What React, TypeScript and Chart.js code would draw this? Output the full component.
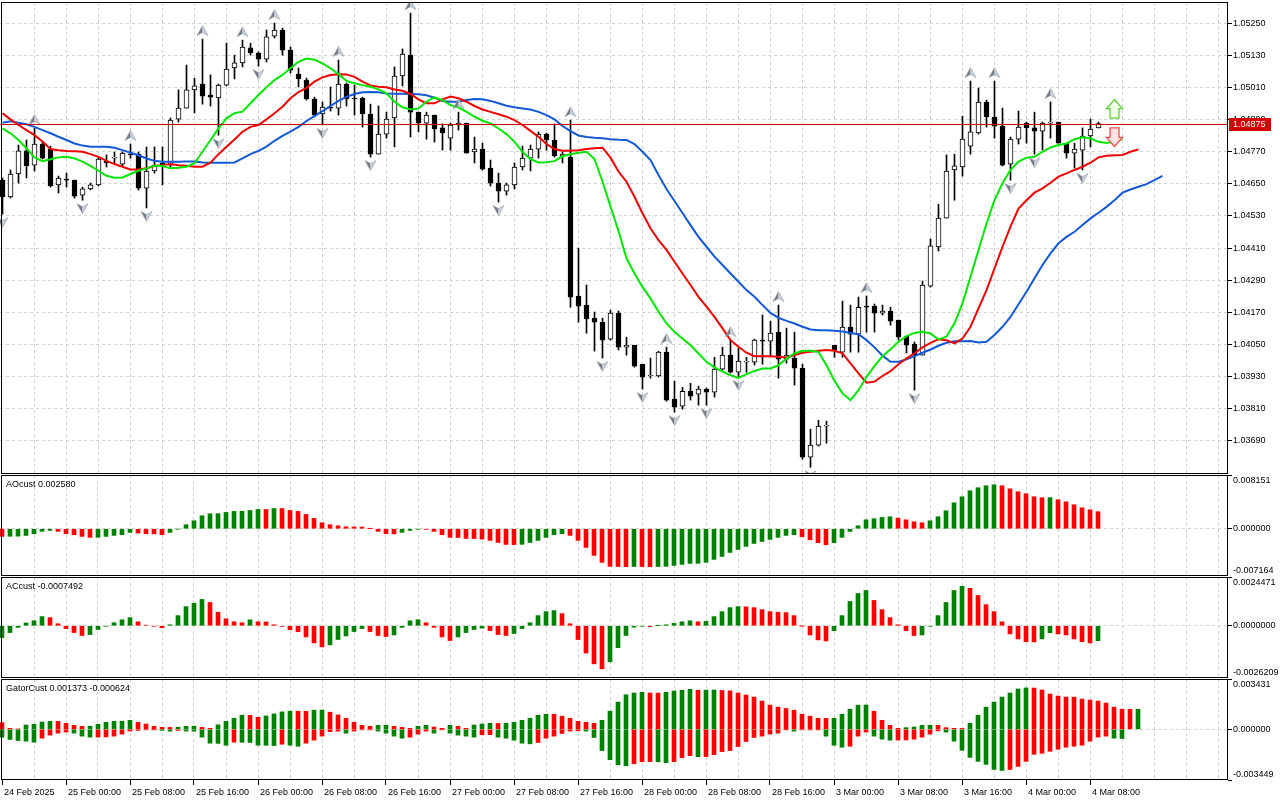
import React, { useEffect, useRef } from "react";
import { Chart, registerables } from "chart.js";

Chart.register(...registerables);

// ---------------- data ----------------
const opens = [1.04664,1.04601,1.04687,1.04773,1.04720,1.04799,1.04780,1.04646,1.04668,1.04664,
1.04608,1.04631,1.04646,1.04735,1.04746,1.04724,1.04761,1.04761,1.04634,1.04698,
1.04728,1.04720,1.04892,1.04933,1.05001,1.05023,1.04982,1.04971,1.05019,1.05083,
1.05102,1.05158,1.05139,1.05116,1.05202,1.05225,1.05150,1.05060,1.05038,1.04967,
1.04911,1.04937,1.04933,1.05023,1.04971,1.04971,1.04911,1.04761,1.04836,1.04896,
1.05053,1.05131,1.04918,1.04877,1.04907,1.04859,1.04821,1.04870,1.04877,1.04769,
1.04780,1.04709,1.04653,1.04623,1.04646,1.04713,1.04746,1.04780,1.04836,1.04814,
1.04754,1.04750,1.04231,1.04197,1.04148,1.04133,1.04070,1.04167,1.04040,1.04047,
1.03976,1.03932,1.03932,1.04021,1.03846,1.03819,1.03875,1.03864,1.03883,1.03872,
1.03958,1.04010,1.03946,1.03984,1.03984,1.04066,1.04062,1.04096,1.03995,1.03999,
1.03961,1.03629,1.03674,1.03745,1.04047,1.04021,1.04115,1.04088,1.04193,1.04193,
1.04167,1.04175,1.04141,1.04081,1.04051,1.04010,1.04268,1.04414,1.04522,1.04702,
1.04713,1.04791,1.04840,1.04956,1.04900,1.04866,1.04724,1.04817,1.04877,1.04859,
1.04847,1.04877,1.04881,1.04802,1.04765,1.04776,1.04829,1.04859];

const highs = [1.04672,1.04702,1.04795,1.04814,1.04859,1.04806,1.04791,1.04679,1.04690,1.04664,
1.04638,1.04653,1.04750,1.04758,1.04769,1.04769,1.04799,1.04769,1.04788,1.04788,
1.04788,1.04896,1.05001,1.05094,1.05045,1.05191,1.05057,1.05023,1.05176,1.05131,
1.05187,1.05176,1.05143,1.05225,1.05251,1.05232,1.05161,1.05083,1.05045,1.04974,
1.04956,1.05012,1.05113,1.05027,1.05019,1.04974,1.04948,1.04941,1.04918,1.05087,
1.05154,1.05288,1.04918,1.04918,1.04907,1.04874,1.04877,1.04918,1.04877,1.04825,
1.04802,1.04739,1.04690,1.04653,1.04728,1.04791,1.04795,1.04844,1.04840,1.04874,
1.04769,1.04888,1.04410,1.04272,1.04171,1.04148,1.04178,1.04175,1.04077,1.04047,
1.03976,1.03999,1.04025,1.04040,1.03913,1.03890,1.03905,1.03894,1.03887,1.04002,
1.04040,1.04066,1.04036,1.04002,1.04070,1.04160,1.04137,1.04197,1.04111,1.04096,
1.03976,1.03733,1.03767,1.03763,1.04047,1.04212,1.04197,1.04227,1.04231,1.04201,
1.04197,1.04189,1.04141,1.04081,1.04059,1.04287,1.04444,1.04574,1.04758,1.04761,
1.04903,1.05034,1.05008,1.04963,1.05034,1.04933,1.04825,1.04922,1.04881,1.04918,
1.04881,1.04956,1.04881,1.04802,1.04802,1.04859,1.04892,1.04881];

const lows = [1.04537,1.04597,1.04653,1.04672,1.04698,1.04743,1.04638,1.04616,1.04638,1.04597,
1.04589,1.04627,1.04642,1.04713,1.04728,1.04717,1.04746,1.04627,1.04560,1.04690,
1.04646,1.04713,1.04881,1.04933,1.04915,1.04948,1.04941,1.04832,1.05016,1.05042,
1.05087,1.05131,1.05090,1.05105,1.05195,1.05131,1.05064,1.05012,1.04963,1.04900,
1.04870,1.04922,1.04907,1.04941,1.04907,1.04862,1.04750,1.04761,1.04821,1.04788,
1.05016,1.04825,1.04844,1.04817,1.04806,1.04776,1.04776,1.04851,1.04765,1.04728,
1.04702,1.04642,1.04582,1.04608,1.04631,1.04702,1.04698,1.04746,1.04776,1.04750,
1.04728,1.04189,1.04133,1.04092,1.04025,1.03999,1.04066,1.04029,1.04010,1.03965,
1.03883,1.03924,1.03928,1.03838,1.03797,1.03808,1.03842,1.03823,1.03823,1.03853,
1.03954,1.03943,1.03928,1.03946,1.03973,1.03976,1.04006,1.03924,1.03980,1.03898,
1.03621,1.03591,1.03670,1.03681,1.04002,1.04002,1.04021,1.04021,1.04096,1.04096,
1.04160,1.04122,1.04066,1.04018,1.03879,1.04010,1.04264,1.04399,1.04522,1.04589,
1.04679,1.04761,1.04836,1.04862,1.04821,1.04717,1.04664,1.04799,1.04802,1.04761,
1.04776,1.04821,1.04802,1.04746,1.04709,1.04702,1.04788,1.04859];

const closes = [1.04601,1.04687,1.04773,1.04717,1.04799,1.04746,1.04642,1.04672,1.04664,1.04604,
1.04631,1.04646,1.04743,1.04728,1.04750,1.04765,1.04758,1.04634,1.04698,1.04720,
1.04720,1.04888,1.04933,1.05001,1.05016,1.04978,1.04974,1.05019,1.05079,1.05102,
1.05161,1.05139,1.05116,1.05199,1.05225,1.05150,1.05075,1.05042,1.04967,1.04907,
1.04937,1.04933,1.05023,1.04967,1.04967,1.04911,1.04761,1.04836,1.04892,1.05053,
1.05135,1.04918,1.04877,1.04907,1.04855,1.04840,1.04870,1.04877,1.04765,1.04780,
1.04705,1.04653,1.04623,1.04646,1.04713,1.04746,1.04780,1.04836,1.04814,1.04754,
1.04761,1.04227,1.04193,1.04145,1.04133,1.04066,1.04167,1.04040,1.04047,1.03969,
1.03928,1.03935,1.04021,1.03842,1.03816,1.03875,1.03857,1.03883,1.03872,1.03958,
1.04010,1.03946,1.03988,1.03988,1.04066,1.04062,1.04092,1.03995,1.04010,1.03961,
1.03629,1.03674,1.03745,1.03747,1.04029,1.04115,1.04088,1.04189,1.04189,1.04167,
1.04175,1.04137,1.04077,1.04047,1.04010,1.04272,1.04418,1.04522,1.04698,1.04717,
1.04817,1.04844,1.04956,1.04900,1.04866,1.04720,1.04817,1.04862,1.04859,1.04847,
1.04877,1.04878,1.04802,1.04765,1.04780,1.04829,1.04855,1.04875];

// Alligator lines (as displayed, already shifted forward)
const jaw = [1.04878,1.04884,1.04878,1.04873,1.04863,1.04851,1.04839,1.04826,1.04814,1.04801,
1.04793,1.04789,1.04789,1.04789,1.04785,1.04776,1.04766,1.04757,1.04745,1.04736,
1.04733,1.04733,1.04733,1.04734,1.04734,1.04730,1.04729,1.04729,1.04729,1.04730,
1.04745,1.04761,1.04773,1.04789,1.04811,1.04829,1.04845,1.04863,1.04885,1.04903,
1.04922,1.04941,1.04960,1.04975,1.04986,1.04992,1.04993,1.04992,1.04988,1.04987,
1.04987,1.04986,1.04985,1.04981,1.04972,1.04960,1.04957,1.04957,1.04963,1.04967,
1.04966,1.04960,1.04951,1.04942,1.04936,1.04932,1.04928,1.04919,1.04907,1.04891,
1.04866,1.04847,1.04831,1.04825,1.04822,1.04820,1.04817,1.04815,1.04814,1.04799,
1.04770,1.04739,1.04683,1.04631,1.04586,1.04541,1.04496,1.04452,1.04415,1.04378,
1.04347,1.04315,1.04284,1.04253,1.04228,1.04197,1.04168,1.04149,1.04138,1.04128,
1.04116,1.04106,1.04103,1.04103,1.04101,1.04098,1.04093,1.04088,1.04066,1.04039,
1.04008,1.03985,1.03985,1.03994,1.04006,1.04019,1.04031,1.04045,1.04056,1.04062,
1.04062,1.04063,1.04057,1.04060,1.04085,1.04116,1.04153,1.04200,1.04247,1.04297,
1.04347,1.04390,1.04428,1.04452,1.04471,1.04496,1.04521,1.04542,1.04564,1.04589,
1.04617,1.04629,1.04639,1.04649,1.04664,1.04680];

const teeth = [1.04914,1.04891,1.04870,1.04851,1.04832,1.04808,1.04780,1.04776,1.04773,1.04772,
1.04770,1.04761,1.04751,1.04736,1.04724,1.04714,1.04704,1.04704,1.04708,1.04717,
1.04720,1.04724,1.04720,1.04718,1.04714,1.04714,1.04729,1.04761,1.04789,1.04816,
1.04845,1.04863,1.04870,1.04891,1.04914,1.04938,1.04970,1.04993,1.05009,1.05032,
1.05048,1.05057,1.05060,1.05059,1.05050,1.05032,1.05018,1.05013,1.05011,1.05003,
1.04998,1.04986,1.04966,1.04951,1.04951,1.04966,1.04976,1.04970,1.04957,1.04941,
1.04928,1.04919,1.04910,1.04901,1.04888,1.04870,1.04848,1.04826,1.04799,1.04780,
1.04774,1.04774,1.04776,1.04780,1.04783,1.04785,1.04748,1.04696,1.04658,1.04602,
1.04540,1.04484,1.04440,1.04403,1.04359,1.04315,1.04272,1.04228,1.04191,1.04153,
1.04110,1.04066,1.04041,1.04019,1.04006,1.04006,1.04006,1.04004,1.04001,1.04010,
1.04019,1.04023,1.04026,1.04029,1.04026,1.04017,1.03979,1.03942,1.03907,1.03911,
1.03932,1.03950,1.03976,1.03998,1.04017,1.04039,1.04056,1.04069,1.04066,1.04054,
1.04072,1.04116,1.04185,1.04253,1.04334,1.04415,1.04490,1.04558,1.04589,1.04617,
1.04633,1.04654,1.04677,1.04689,1.04702,1.04714,1.04729,1.04749,1.04755,1.04757,
1.04758,1.04770,1.04779];

const lips = [1.04857,1.04839,1.04814,1.04783,1.04749,1.04735,1.04742,1.04749,1.04751,1.04745,
1.04733,1.04717,1.04699,1.04680,1.04673,1.04674,1.04687,1.04699,1.04708,1.04718,
1.04717,1.04708,1.04710,1.04714,1.04727,1.04770,1.04814,1.04857,1.04895,1.04914,
1.04920,1.04951,1.04982,1.05011,1.05038,1.05057,1.05082,1.05106,1.05118,1.05114,
1.05100,1.05082,1.05060,1.05035,1.05026,1.05019,1.05013,1.05003,1.04988,1.04957,
1.04936,1.04928,1.04932,1.04957,1.04973,1.04963,1.04944,1.04936,1.04919,1.04901,
1.04886,1.04876,1.04857,1.04836,1.04807,1.04770,1.04742,1.04730,1.04731,1.04735,
1.04753,1.04761,1.04766,1.04770,1.04743,1.04659,1.04565,1.04474,1.04372,1.04315,
1.04265,1.04222,1.04172,1.04129,1.04097,1.04072,1.04047,1.04016,1.03985,1.03964,
1.03948,1.03935,1.03925,1.03939,1.03951,1.03960,1.03960,1.03972,1.03997,1.04016,
1.04026,1.04026,1.04022,1.03972,1.03914,1.03867,1.03842,1.03879,1.03929,1.03969,
1.04006,1.04032,1.04060,1.04081,1.04093,1.04097,1.04091,1.04069,1.04079,1.04129,
1.04204,1.04303,1.04403,1.04502,1.04589,1.04652,1.04702,1.04733,1.04748,1.04751,
1.04770,1.04786,1.04795,1.04801,1.04817,1.04824,1.04820,1.04807,1.04803,1.04807,
1.04818];

const fractalUpBars = [4, 16, 25, 30, 34, 42, 51, 57, 71, 83, 91, 97, 108, 121, 124, 131];
const fractalDownBars = [0, 10, 18, 27, 32, 40, 46, 62, 75, 80, 84, 88, 92, 101, 114, 126, 129, 135];

const signalBars = [139];
const buySignalPrices = [1.04896];
const sellSignalPrices = [1.04859];

const lastPrice = 1.04875;
const lastPriceLabel = "1.04875";
const priceAxisMin = 1.035658;
const priceAxisMax = 1.053296;
const priceTicks = [1.0525, 1.0513, 1.0501, 1.0489, 1.0477, 1.0465, 1.0453, 1.0441, 1.0429, 1.0417, 1.0405, 1.0393, 1.0381, 1.0369];

const aoValues = [-0.00116,-0.00114,-0.00112,-0.00101,-0.00076,-0.00040,-0.00025,-0.00040,-0.00076,-0.00091,
-0.00116,-0.00131,-0.00129,-0.00116,-0.00101,-0.00091,-0.00056,-0.00066,-0.00076,-0.00078,
-0.00091,-0.00056,-0.00005,0.00061,0.00121,0.00197,0.00227,0.00229,0.00248,0.00263,
0.00265,0.00278,0.00293,0.00292,0.00308,0.00307,0.00278,0.00263,0.00217,0.00157,
0.00091,0.00061,0.00045,0.00030,0.00028,0.00025,0.00002,-0.00040,-0.00076,-0.00078,
-0.00056,-0.00025,-0.00005,-0.00010,-0.00040,-0.00091,-0.00131,-0.00133,-0.00147,-0.00149,
-0.00157,-0.00177,-0.00208,-0.00238,-0.00240,-0.00236,-0.00208,-0.00177,-0.00131,-0.00091,
-0.00076,-0.00101,-0.00177,-0.00283,-0.00404,-0.00510,-0.00571,-0.00573,-0.00575,-0.00572,
-0.00574,-0.00576,-0.00573,-0.00570,-0.00556,-0.00541,-0.00526,-0.00524,-0.00510,-0.00465,
-0.00420,-0.00359,-0.00314,-0.00268,-0.00223,-0.00193,-0.00162,-0.00131,-0.00101,-0.00091,
-0.00121,-0.00167,-0.00212,-0.00243,-0.00212,-0.00131,-0.00040,0.00045,0.00136,0.00152,
0.00172,0.00182,0.00162,0.00136,0.00106,0.00091,0.00121,0.00182,0.00273,0.00394,
0.00485,0.00576,0.00622,0.00652,0.00667,0.00652,0.00606,0.00561,0.00531,0.00485,
0.00470,0.00472,0.00440,0.00409,0.00364,0.00318,0.00288,0.00258];

const acValues = [-0.00059,-0.00034,-0.00008,0.00014,0.00025,0.00046,0.00041,0.00010,-0.00014,-0.00034,
-0.00049,-0.00044,-0.00019,-0.00002,0.00015,0.00030,0.00041,0.00020,0.00003,-0.00002,
-0.00010,0.00005,0.00051,0.00096,0.00113,0.00132,0.00117,0.00068,0.00035,0.00020,
0.00015,0.00030,0.00020,0.00019,0.00005,-0.00003,-0.00020,-0.00030,-0.00056,-0.00086,
-0.00106,-0.00096,-0.00069,-0.00051,-0.00029,-0.00014,-0.00029,-0.00049,-0.00054,-0.00046,
-0.00008,0.00025,0.00030,0.00015,-0.00008,-0.00056,-0.00074,-0.00056,-0.00034,-0.00019,
-0.00012,-0.00024,-0.00044,-0.00049,-0.00039,-0.00014,0.00015,0.00051,0.00071,0.00076,
0.00061,0.00010,-0.00069,-0.00137,-0.00191,-0.00216,-0.00181,-0.00110,-0.00049,-0.00007,
-0.00002,-0.00004,0.00001,0.00005,0.00012,0.00020,0.00025,0.00020,0.00022,0.00046,
0.00071,0.00091,0.00096,0.00095,0.00091,0.00081,0.00071,0.00068,0.00066,0.00051,
-0.00001,-0.00046,-0.00071,-0.00076,-0.00025,0.00051,0.00122,0.00162,0.00177,0.00127,
0.00081,0.00041,0.00005,-0.00025,-0.00049,-0.00046,-0.00002,0.00051,0.00117,0.00177,
0.00198,0.00188,0.00152,0.00106,0.00071,0.00020,-0.00041,-0.00066,-0.00080,-0.00081,
-0.00066,-0.00035,-0.00041,-0.00046,-0.00066,-0.00080,-0.00086,-0.0007492];

const gatorUpper = [0.000461,0.000069,0.000034,0.000296,0.000344,0.000502,0.000550,0.000544,0.000413,0.000275,
0.000206,0.000213,0.000344,0.000482,0.000550,0.000557,0.000619,0.000482,0.000365,0.000206,
0.000138,0.000131,0.000144,0.000206,0.000220,0.000138,0.000069,0.000310,0.000550,0.000757,
0.000963,0.000956,0.000826,0.000915,0.001053,0.001190,0.001238,0.001232,0.001225,0.001307,
0.001314,0.001170,0.000984,0.000757,0.000482,0.000275,0.000206,0.000275,0.000282,0.000206,
0.000138,0.000069,0.000206,0.000275,0.000158,0.000069,0.000275,0.000206,0.000069,0.000296,
0.000365,0.000413,0.000406,0.000413,0.000482,0.000619,0.000757,0.000963,0.001032,0.001025,
0.000894,0.000757,0.000550,0.000482,0.000413,0.000619,0.001238,0.001858,0.002360,0.002477,
0.002525,0.002477,0.002470,0.002525,0.002614,0.002663,0.002731,0.002663,0.002676,0.002683,
0.002649,0.002628,0.002477,0.002339,0.002202,0.001926,0.001651,0.001514,0.001424,0.001307,
0.001032,0.000894,0.000757,0.000750,0.000757,0.001032,0.001376,0.001651,0.001658,0.001238,
0.000619,0.000275,0.000069,0.000117,0.000158,0.000275,0.000282,0.000275,0.000117,0.000069,
0.000062,0.000413,0.000963,0.001514,0.001858,0.002202,0.002477,0.002752,0.002821,0.002814,
0.002683,0.002408,0.002270,0.002202,0.002195,0.002064,0.001995,0.001926,0.001789,0.001514,
0.001376,0.001369,0.001373];

const gatorLower = [-0.000530,-0.000688,-0.000757,-0.000805,-0.000874,-0.000599,-0.000392,-0.000255,-0.000186,-0.000255,
-0.000461,-0.000530,-0.000523,-0.000516,-0.000461,-0.000323,-0.000117,-0.000069,-0.000034,-0.000021,
-0.000069,-0.000117,-0.000069,-0.000117,-0.000124,-0.000530,-0.000943,-0.000956,-0.001080,-0.000874,
-0.000881,-0.000894,-0.001080,-0.001087,-0.001101,-0.001011,-0.001080,-0.001149,-0.000943,-0.000736,
-0.000461,-0.000158,-0.000117,-0.000255,-0.000117,-0.000034,-0.000028,-0.000117,-0.000255,-0.000461,
-0.000599,-0.000530,-0.000323,-0.000117,-0.000255,-0.000021,-0.000255,-0.000392,-0.000461,-0.000530,
-0.000365,-0.000358,-0.000530,-0.000599,-0.000736,-0.000943,-0.000984,-0.000894,-0.000599,-0.000461,
-0.000275,-0.000117,-0.000103,-0.000117,-0.000550,-0.001445,-0.002064,-0.002408,-0.002477,-0.002339,
-0.002202,-0.002195,-0.002208,-0.002270,-0.002202,-0.001926,-0.001789,-0.001858,-0.001851,-0.001720,
-0.001514,-0.001445,-0.001170,-0.000826,-0.000550,-0.000461,-0.000323,-0.000255,-0.000014,-0.000117,
-0.000034,-0.000021,-0.000014,-0.000461,-0.001080,-0.001218,-0.001149,-0.000461,-0.000186,-0.000461,
-0.000667,-0.000736,-0.000729,-0.000722,-0.000667,-0.000530,-0.000323,-0.000103,-0.000186,-0.000805,
-0.001424,-0.001906,-0.002181,-0.002387,-0.002731,-0.002800,-0.002731,-0.002525,-0.002181,-0.001699,
-0.001631,-0.001493,-0.001355,-0.001218,-0.001149,-0.001080,-0.000805,-0.000530,-0.000461,-0.000599,
-0.000624];

const aoTitle = "AOcust 0.002580";
const acTitle = "ACcust -0.0007492";
const gatorTitle = "GatorCust 0.001373 -0.000624";
const aoScale = [0.008151, 0, -0.007164];
const aoScaleLabels = ["0.008151", "0.000000", "-0.007164"];
const acScale = [0.0024471, 0, -0.0026209];
const acScaleLabels = ["0.0024471", "0.0000000", "-0.0026209"];
const gatorScale = [0.003431, 0, -0.003449];
const gatorScaleLabels = ["0.003431", "0.000000", "-0.003449"];

const timeLabelBars = [0, 8, 16, 24, 32, 40, 48, 56, 64, 72, 80, 88, 96, 104, 112, 120, 128, 136];
const timeLabels = ["24 Feb 2025", "25 Feb 00:00", "25 Feb 08:00", "25 Feb 16:00", "26 Feb 00:00", "26 Feb 08:00",
  "26 Feb 16:00", "27 Feb 00:00", "27 Feb 08:00", "27 Feb 16:00", "28 Feb 00:00", "28 Feb 08:00", "28 Feb 16:00",
  "3 Mar 00:00", "3 Mar 08:00", "3 Mar 16:00", "4 Mar 00:00", "4 Mar 08:00"];

// ---------------- style ----------------
const FONT_FAMILY = '"Liberation Sans", Arial, sans-serif';
const FONT_SIZE = 9;
const FONT = FONT_SIZE + "px " + FONT_FAMILY;
const GRID_COLOR = "#d2d2d2";
const UP_COLOR = "#008000";
const DOWN_COLOR = "#ff0000";
const JAW_COLOR = "#1358d6";
const TEETH_COLOR = "#f00000";
const LIPS_COLOR = "#00e600";
const PRICE_COLOR = "#d00000";
const TRANSPARENT = "rgba(0,0,0,0)";

Chart.defaults.font.family = FONT_FAMILY;
Chart.defaults.font.size = FONT_SIZE;

const gridBars: number[] = [];
for (let b = 0; b <= 152; b += 4) gridBars.push(b);

function pts(values: number[]) {
  return values.map((y, x) => ({ x, y }));
}

function histColors(values: number[], first: string, useAbs: boolean) {
  return values.map((v, i) => {
    if (i === 0) return first;
    const a = useAbs ? Math.abs(v) : v;
    const b = useAbs ? Math.abs(values[i - 1]) : values[i - 1];
    return a > b ? UP_COLOR : DOWN_COLOR;
  });
}

function xAxis(min: number, max: number, showTime: boolean): any {
  return {
    type: "linear",
    min,
    max,
    offset: false,
    afterBuildTicks: (s: any) => {
      s.ticks = gridBars.map((value) => ({ value }));
    },
    afterFit: (s: any) => {
      s.height = showTime ? 20 : 0;
      s.paddingLeft = 0;
      s.paddingRight = 0;
    },
    ticks: showTime
      ? {
          display: true,
          autoSkip: false,
          maxRotation: 0,
          minRotation: 0,
          align: "start",
          labelOffset: 2,
          padding: 2,
          color: "#000",
          font: { family: FONT_FAMILY, size: FONT_SIZE },
          callback: (v: any) => {
            const k = timeLabelBars.indexOf(Number(v));
            return k >= 0 ? timeLabels[k] : "";
          },
        }
      : { display: false },
    grid: {
      offset: false,
      lineWidth: 1,
      drawTicks: showTime,
      tickLength: 5,
      tickWidth: 1,
      tickBorderDash: [],
      color: (c: any) => (c.tick && c.tick.value === 0 ? TRANSPARENT : GRID_COLOR),
      tickColor: (c: any) => (c.tick && timeLabelBars.includes(c.tick.value) ? "#000" : TRANSPARENT),
    },
    border: { display: false, dash: [3, 3] },
  };
}

function drawFrame(ctx: CanvasRenderingContext2D, a: any) {
  ctx.save();
  ctx.setLineDash([]);
  ctx.strokeStyle = "#000";
  ctx.lineWidth = 1;
  ctx.strokeRect(a.left + 1.5, a.top + 0.5, a.right - a.left - 2, a.bottom - a.top - 1);
  ctx.restore();
}

function drawFractal(ctx: CanvasRenderingContext2D, x: number, y: number, up: boolean) {
  const s = up ? 1 : -1;
  const tip = y - 5.5 * s;
  const base = y + 4.5 * s;
  const notch = y + 1.5 * s;
  ctx.beginPath();
  ctx.moveTo(x, tip);
  ctx.lineTo(x - 5.5, base);
  ctx.lineTo(x, notch);
  ctx.closePath();
  ctx.fillStyle = "#737b86";
  ctx.fill();
  ctx.beginPath();
  ctx.moveTo(x, tip);
  ctx.lineTo(x + 5.5, base);
  ctx.lineTo(x, notch);
  ctx.closePath();
  ctx.fillStyle = "#c9ced4";
  ctx.fill();
  ctx.beginPath();
  ctx.moveTo(x, tip);
  ctx.lineTo(x - 5.5, base);
  ctx.lineTo(x, notch);
  ctx.lineTo(x + 5.5, base);
  ctx.closePath();
  ctx.lineWidth = 0.6;
  ctx.strokeStyle = "#9aa1aa";
  ctx.stroke();
}

function drawBlockArrow(ctx: CanvasRenderingContext2D, x: number, y: number, up: boolean, fill: string, stroke: string) {
  const s = up ? -1 : 1;
  ctx.beginPath();
  ctx.moveTo(x - 4.5, y);
  ctx.lineTo(x - 4.5, y + 9.5 * s);
  ctx.lineTo(x - 8, y + 9.5 * s);
  ctx.lineTo(x, y + 18.5 * s);
  ctx.lineTo(x + 8, y + 9.5 * s);
  ctx.lineTo(x + 4.5, y + 9.5 * s);
  ctx.lineTo(x + 4.5, y);
  ctx.closePath();
  ctx.fillStyle = fill;
  ctx.fill();
  ctx.lineWidth = 1.3;
  ctx.strokeStyle = stroke;
  ctx.stroke();
}

const mainPlugin = {
  id: "mainDecor",
  afterDatasetsDraw(chart: any) {
    const { ctx, chartArea: a, scales } = chart;
    const xs = scales.x;
    const ys = scales.y;
    ctx.save();
    ctx.beginPath();
    ctx.rect(a.left, a.top, a.right - a.left, a.bottom - a.top);
    ctx.clip();
    fractalUpBars.forEach((i) => drawFractal(ctx, xs.getPixelForValue(i), ys.getPixelForValue(highs[i]) - 8, true));
    fractalDownBars.forEach((i) => drawFractal(ctx, xs.getPixelForValue(i), ys.getPixelForValue(lows[i]) + 8, false));
    signalBars.forEach((b, k) => {
      const x = xs.getPixelForValue(b);
      drawBlockArrow(ctx, x, ys.getPixelForValue(buySignalPrices[k]), true, "#f2ffe4", "#5ccf3a");
      drawBlockArrow(ctx, x, ys.getPixelForValue(sellSignalPrices[k]), false, "#ffe6e6", "#ff4a4a");
    });
    const py = Math.round(ys.getPixelForValue(lastPrice)) + 0.5;
    ctx.strokeStyle = PRICE_COLOR;
    ctx.lineWidth = 1;
    ctx.beginPath();
    ctx.moveTo(a.left, py);
    ctx.lineTo(a.right, py);
    ctx.stroke();
    ctx.restore();
  },
  afterDraw(chart: any) {
    const { ctx, chartArea: a, scales } = chart;
    drawFrame(ctx, a);
    const py = Math.round(scales.y.getPixelForValue(lastPrice));
    ctx.save();
    ctx.fillStyle = PRICE_COLOR;
    ctx.fillRect(a.right + 1, py - 6, 42, 13);
    ctx.fillStyle = "#fff";
    ctx.font = FONT;
    ctx.textAlign = "left";
    ctx.textBaseline = "middle";
    ctx.fillText(lastPriceLabel, a.right + 5, py + 1);
    ctx.restore();
  },
};

function makePanePlugin(title: string, vals: number[], labels: string[]) {
  return {
    id: "pane" + title.replace(/[^A-Za-z]/g, ""),
    afterDraw(chart: any) {
      const { ctx, chartArea: a, scales } = chart;
      ctx.save();
      ctx.fillStyle = "#000";
      ctx.font = FONT;
      ctx.textAlign = "left";
      ctx.textBaseline = "top";
      ctx.fillText(title, a.left + 6, a.top + 5);
      vals.forEach((v, k) => {
        const y = scales.y.getPixelForValue(v);
        let yy = y;
        let base: CanvasTextBaseline = "middle";
        if (k === 0) {
          yy = y + 1;
          base = "top";
        } else if (k === vals.length - 1) {
          yy = y - 1;
          base = "bottom";
        }
        ctx.textBaseline = base;
        ctx.fillText(labels[k], a.right + 5, yy);
      });
      ctx.restore();
      drawFrame(ctx, a);
    },
  };
}

function baseOptions(): any {
  return {
    animation: false,
    responsive: false,
    devicePixelRatio: 1,
    events: [],
    plugins: { legend: { display: false }, tooltip: { enabled: false } },
  };
}

function buildMain(): any {
  const bodies = opens.map((o, i) => ({ x: i, y: [Math.min(o, closes[i]), Math.max(o, closes[i])] }));
  const bodyColors = opens.map((o, i) => (closes[i] >= o ? "#ffffff" : "#000000"));
  const wicks = lows.map((l, i) => ({ x: i, y: [l, highs[i]] }));
  const lineDs = (data: number[], color: string, order: number) => ({
    type: "line",
    data: pts(data),
    borderColor: color,
    borderWidth: 2,
    pointRadius: 0,
    tension: 0,
    fill: false,
    order,
  });
  return {
    type: "bar",
    data: {
      datasets: [
        lineDs(lips, LIPS_COLOR, 1),
        lineDs(teeth, TEETH_COLOR, 2),
        lineDs(jaw, JAW_COLOR, 3),
        {
          type: "bar",
          data: bodies,
          backgroundColor: bodyColors,
          borderColor: "#000",
          borderWidth: 1,
          borderSkipped: false,
          barThickness: 5,
          grouped: false,
          minBarLength: 1,
          order: 4,
        },
        {
          type: "bar",
          data: wicks,
          backgroundColor: "#000",
          borderWidth: 0,
          barThickness: 1,
          grouped: false,
          order: 5,
        },
      ],
    },
    options: {
      ...baseOptions(),
      layout: { padding: { top: 2, left: 0, right: 0, bottom: 0 } },
      scales: {
        x: xAxis(-0.3125, 153.1875, false),
        y: {
          type: "linear",
          position: "right",
          min: priceAxisMin,
          max: priceAxisMax,
          afterBuildTicks: (s: any) => {
            s.ticks = priceTicks.map((value) => ({ value }));
          },
          afterFit: (s: any) => {
            s.width = 52;
            s.paddingTop = 0;
            s.paddingBottom = 0;
          },
          ticks: {
            color: "#000",
            padding: 1,
            autoSkip: false,
            font: { family: FONT_FAMILY, size: FONT_SIZE },
            callback: (v: any) => Number(v).toFixed(5),
          },
          grid: {
            color: GRID_COLOR,
            lineWidth: 1,
            drawTicks: true,
            tickLength: 4,
            tickWidth: 1,
            tickColor: "#000",
            tickBorderDash: [],
          },
          border: { display: false, dash: [3, 3] },
        },
      },
    },
    plugins: [mainPlugin],
  };
}

function buildPane(datasets: any[], vals: number[], labels: string[], title: string, showTime: boolean): any {
  return {
    type: "bar",
    data: { datasets },
    options: {
      ...baseOptions(),
      layout: { padding: 0 },
      scales: {
        x: xAxis(-0.25, 153.25, showTime),
        y: {
          type: "linear",
          position: "right",
          min: vals[vals.length - 1],
          max: vals[0],
          afterBuildTicks: (s: any) => {
            s.ticks = vals.map((value) => ({ value }));
          },
          afterFit: (s: any) => {
            s.width = 52;
            s.paddingTop = 0;
            s.paddingBottom = 0;
          },
          ticks: { display: false },
          grid: {
            lineWidth: 1,
            drawTicks: true,
            tickLength: 4,
            tickWidth: 1,
            tickColor: "#000",
            tickBorderDash: [],
            color: (c: any) => (c.tick && c.tick.value === 0 ? GRID_COLOR : TRANSPARENT),
          },
          border: { display: false, dash: [3, 3] },
        },
      },
    },
    plugins: [makePanePlugin(title, vals, labels)],
  };
}

function histDs(values: number[], colors: string[]) {
  return {
    type: "bar",
    data: pts(values),
    backgroundColor: colors,
    borderWidth: 0,
    barThickness: 4,
    grouped: false,
  };
}

export default function App() {
  const mainRef = useRef<HTMLCanvasElement | null>(null);
  const aoRef = useRef<HTMLCanvasElement | null>(null);
  const acRef = useRef<HTMLCanvasElement | null>(null);
  const gatorRef = useRef<HTMLCanvasElement | null>(null);

  useEffect(() => {
    document.body.style.margin = "0";
    const charts: Chart[] = [];
    if (mainRef.current) charts.push(new Chart(mainRef.current, buildMain()));
    if (aoRef.current)
      charts.push(
        new Chart(
          aoRef.current,
          buildPane([histDs(aoValues, histColors(aoValues, DOWN_COLOR, false))], aoScale, aoScaleLabels, aoTitle, false)
        )
      );
    if (acRef.current)
      charts.push(
        new Chart(
          acRef.current,
          buildPane([histDs(acValues, histColors(acValues, UP_COLOR, false))], acScale, acScaleLabels, acTitle, false)
        )
      );
    if (gatorRef.current)
      charts.push(
        new Chart(
          gatorRef.current,
          buildPane(
            [
              histDs(gatorUpper, histColors(gatorUpper, DOWN_COLOR, false)),
              histDs(gatorLower, histColors(gatorLower, UP_COLOR, true)),
            ],
            gatorScale,
            gatorScaleLabels,
            gatorTitle,
            true
          )
        )
      );
    return () => charts.forEach((c) => c.destroy());
  }, []);

  const abs = (top: number): React.CSSProperties => ({ position: "absolute", left: 0, top });
  return (
    <div style={{ position: "fixed", left: 0, top: 0, width: 1280, height: 800, overflow: "hidden", background: "#fff" }}>
      <canvas ref={mainRef} width={1280} height={474} style={abs(0)} />
      <canvas ref={aoRef} width={1280} height={101} style={abs(475)} />
      <canvas ref={acRef} width={1280} height={101} style={abs(577)} />
      <canvas ref={gatorRef} width={1280} height={121} style={abs(679)} />
    </div>
  );
}
